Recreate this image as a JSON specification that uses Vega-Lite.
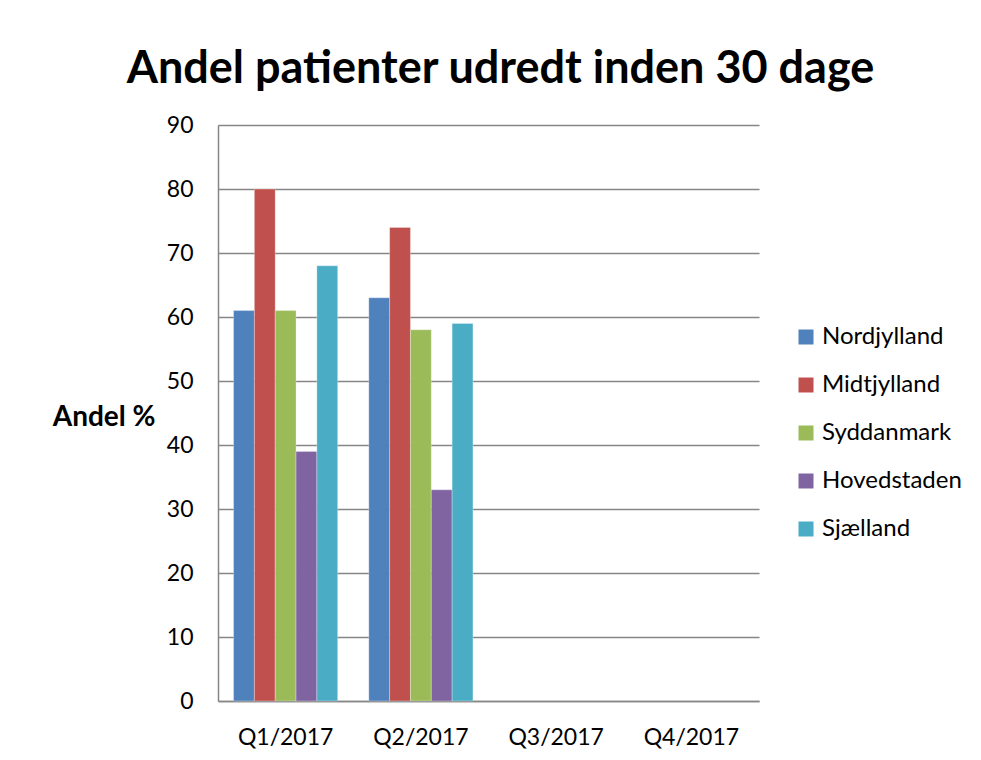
{
  "$schema": "https://vega.github.io/schema/vega-lite/v6.json",
  "autosize": {"type": "none"},
  "width": 541,
  "height": 576,
  "padding": {"left": 218, "top": 125, "right": 222, "bottom": 59},
  "background": "white",
  "title": {
    "text": "Andel patienter udredt inden 30 dage",
    "font": "Lato",
    "fontSize": 45,
    "fontWeight": "bold",
    "color": "#000000",
    "anchor": "middle",
    "offset": 22,
    "dx": 12
  },
  "data": {
    "values": [
      {"kvartal": "Q1/2017", "region": "Nordjylland", "andel": 61},
      {"kvartal": "Q1/2017", "region": "Midtjylland", "andel": 80},
      {"kvartal": "Q1/2017", "region": "Syddanmark", "andel": 61},
      {"kvartal": "Q1/2017", "region": "Hovedstaden", "andel": 39},
      {"kvartal": "Q1/2017", "region": "Sjælland", "andel": 68},
      {"kvartal": "Q2/2017", "region": "Nordjylland", "andel": 63},
      {"kvartal": "Q2/2017", "region": "Midtjylland", "andel": 74},
      {"kvartal": "Q2/2017", "region": "Syddanmark", "andel": 58},
      {"kvartal": "Q2/2017", "region": "Hovedstaden", "andel": 33},
      {"kvartal": "Q2/2017", "region": "Sjælland", "andel": 59}
    ]
  },
  "mark": {"type": "bar", "stroke": "white", "strokeWidth": 0.5, "strokeOpacity": 0.6},
  "encoding": {
    "x": {
      "field": "kvartal",
      "type": "nominal",
      "scale": {"domain": ["Q1/2017", "Q2/2017", "Q3/2017", "Q4/2017"], "paddingInner": 0.23, "paddingOuter": 0.115},
      "axis": {
        "title": null,
        "labelAngle": 0,
        "labelFont": "Lato",
        "labelFontSize": 23,
        "labelColor": "#000000",
        "labelPadding": 25,
        "ticks": false,
        "domainColor": "#868686",
        "domainWidth": 1.5,
        "grid": false
      }
    },
    "xOffset": {
      "field": "region",
      "type": "nominal",
      "sort": ["Nordjylland", "Midtjylland", "Syddanmark", "Hovedstaden", "Sjælland"],
      "scale": {"paddingInner": 0, "paddingOuter": 0}
    },
    "y": {
      "field": "andel",
      "type": "quantitative",
      "scale": {"domain": [0, 90], "nice": false},
      "axis": {
        "values": [0, 10, 20, 30, 40, 50, 60, 70, 80, 90],
        "title": "Andel %",
        "titleAngle": 0,
        "titleFont": "Lato",
        "titleFontSize": 28,
        "titleFontWeight": "bold",
        "titleColor": "#000000",
        "titleAlign": "right",
        "titleBaseline": "middle",
        "titleX": -63,
        "titleY": 292,
        "labelFont": "Lato",
        "labelFontSize": 23,
        "labelColor": "#000000",
        "labelPadding": 25,
        "ticks": false,
        "domainColor": "#868686",
        "domainWidth": 1.5,
        "gridColor": "#868686",
        "gridWidth": 1.5
      }
    },
    "color": {
      "field": "region",
      "type": "nominal",
      "sort": ["Nordjylland", "Midtjylland", "Syddanmark", "Hovedstaden", "Sjælland"],
      "scale": {
        "domain": ["Nordjylland", "Midtjylland", "Syddanmark", "Hovedstaden", "Sjælland"],
        "range": ["#4F81BD", "#C0504D", "#9BBB59", "#8064A2", "#4BACC6"]
      },
      "legend": {
        "title": null,
        "orient": "none",
        "legendX": 576,
        "legendY": 200,
        "symbolType": "square",
        "symbolSize": 225,
        "symbolStrokeWidth": 0,
        "labelFont": "Lato",
        "labelFontSize": 24,
        "labelColor": "#000000",
        "labelOffset": 4,
        "rowPadding": 24
      }
    }
  },
  "config": {
    "view": {"stroke": null}
  }
}
